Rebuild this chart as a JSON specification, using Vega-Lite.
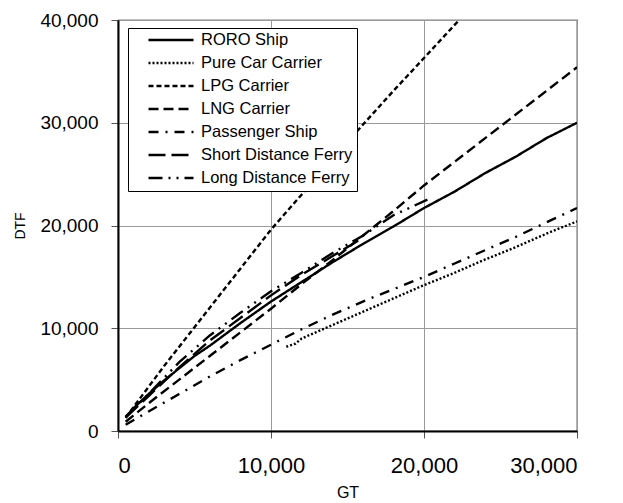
{
  "$schema": "https://vega.github.io/schema/vega-lite/v6.json",
  "autosize": "none",
  "width": 459,
  "height": 411,
  "padding": {"left": 118, "top": 20, "right": 46, "bottom": 72},
  "background": "white",
  "config": {
    "font": "Liberation Sans",
    "view": {"stroke": "black", "strokeWidth": 1.2},
    "axis": {
      "gridColor": "#9a9a9a",
      "gridWidth": 1,
      "domainColor": "black",
      "domainWidth": 2,
      "tickColor": "#555555",
      "tickSize": 7,
      "labelColor": "black",
      "titleColor": "black",
      "titleFontWeight": "normal"
    }
  },
  "data": {
    "values": [
      {"type": "RORO Ship", "gt": 500, "dt": 1300},
      {"type": "RORO Ship", "gt": 1000, "dt": 2200},
      {"type": "RORO Ship", "gt": 2000, "dt": 3600},
      {"type": "RORO Ship", "gt": 3000, "dt": 4900},
      {"type": "RORO Ship", "gt": 4000, "dt": 6100},
      {"type": "RORO Ship", "gt": 5000, "dt": 7300},
      {"type": "RORO Ship", "gt": 6000, "dt": 8300},
      {"type": "RORO Ship", "gt": 8000, "dt": 10500},
      {"type": "RORO Ship", "gt": 10000, "dt": 12600},
      {"type": "RORO Ship", "gt": 12000, "dt": 14500},
      {"type": "RORO Ship", "gt": 14000, "dt": 16400},
      {"type": "RORO Ship", "gt": 16000, "dt": 18200},
      {"type": "RORO Ship", "gt": 18000, "dt": 19900},
      {"type": "RORO Ship", "gt": 20000, "dt": 21700},
      {"type": "RORO Ship", "gt": 22000, "dt": 23300},
      {"type": "RORO Ship", "gt": 24000, "dt": 25100},
      {"type": "RORO Ship", "gt": 26000, "dt": 26700},
      {"type": "RORO Ship", "gt": 28000, "dt": 28500},
      {"type": "RORO Ship", "gt": 30000, "dt": 30000},

      {"type": "Pure Car Carrier", "gt": 11000, "dt": 8200},
      {"type": "Pure Car Carrier", "gt": 11600, "dt": 8500},
      {"type": "Pure Car Carrier", "gt": 12000, "dt": 9000},
      {"type": "Pure Car Carrier", "gt": 14000, "dt": 10300},
      {"type": "Pure Car Carrier", "gt": 16000, "dt": 11600},
      {"type": "Pure Car Carrier", "gt": 18000, "dt": 12900},
      {"type": "Pure Car Carrier", "gt": 20000, "dt": 14200},
      {"type": "Pure Car Carrier", "gt": 22000, "dt": 15400},
      {"type": "Pure Car Carrier", "gt": 24000, "dt": 16700},
      {"type": "Pure Car Carrier", "gt": 26000, "dt": 17900},
      {"type": "Pure Car Carrier", "gt": 28000, "dt": 19200},
      {"type": "Pure Car Carrier", "gt": 30000, "dt": 20400},

      {"type": "LPG Carrier", "gt": 500, "dt": 1300},
      {"type": "LPG Carrier", "gt": 1000, "dt": 2300},
      {"type": "LPG Carrier", "gt": 2000, "dt": 4300},
      {"type": "LPG Carrier", "gt": 3000, "dt": 6300},
      {"type": "LPG Carrier", "gt": 4000, "dt": 8200},
      {"type": "LPG Carrier", "gt": 5000, "dt": 10100},
      {"type": "LPG Carrier", "gt": 6000, "dt": 12000},
      {"type": "LPG Carrier", "gt": 8000, "dt": 15800},
      {"type": "LPG Carrier", "gt": 10000, "dt": 19600},
      {"type": "LPG Carrier", "gt": 12000, "dt": 23000},
      {"type": "LPG Carrier", "gt": 14000, "dt": 26400},
      {"type": "LPG Carrier", "gt": 16000, "dt": 29800},
      {"type": "LPG Carrier", "gt": 18000, "dt": 33100},
      {"type": "LPG Carrier", "gt": 20000, "dt": 36300},
      {"type": "LPG Carrier", "gt": 22300, "dt": 40000},

      {"type": "LNG Carrier", "gt": 500, "dt": 900},
      {"type": "LNG Carrier", "gt": 1000, "dt": 1500},
      {"type": "LNG Carrier", "gt": 2000, "dt": 2700},
      {"type": "LNG Carrier", "gt": 4000, "dt": 5000},
      {"type": "LNG Carrier", "gt": 6000, "dt": 7300},
      {"type": "LNG Carrier", "gt": 8000, "dt": 9600},
      {"type": "LNG Carrier", "gt": 10000, "dt": 11900},
      {"type": "LNG Carrier", "gt": 12000, "dt": 14300},
      {"type": "LNG Carrier", "gt": 14000, "dt": 16600},
      {"type": "LNG Carrier", "gt": 16000, "dt": 19000},
      {"type": "LNG Carrier", "gt": 18000, "dt": 21400},
      {"type": "LNG Carrier", "gt": 20000, "dt": 23900},
      {"type": "LNG Carrier", "gt": 22000, "dt": 26200},
      {"type": "LNG Carrier", "gt": 24000, "dt": 28500},
      {"type": "LNG Carrier", "gt": 26000, "dt": 30800},
      {"type": "LNG Carrier", "gt": 28000, "dt": 33100},
      {"type": "LNG Carrier", "gt": 30000, "dt": 35400},

      {"type": "Passenger Ship", "gt": 500, "dt": 600},
      {"type": "Passenger Ship", "gt": 2000, "dt": 1900},
      {"type": "Passenger Ship", "gt": 4000, "dt": 3600},
      {"type": "Passenger Ship", "gt": 6000, "dt": 5300},
      {"type": "Passenger Ship", "gt": 8000, "dt": 6900},
      {"type": "Passenger Ship", "gt": 10000, "dt": 8400},
      {"type": "Passenger Ship", "gt": 12000, "dt": 9900},
      {"type": "Passenger Ship", "gt": 14000, "dt": 11300},
      {"type": "Passenger Ship", "gt": 16000, "dt": 12600},
      {"type": "Passenger Ship", "gt": 18000, "dt": 13800},
      {"type": "Passenger Ship", "gt": 20000, "dt": 15000},
      {"type": "Passenger Ship", "gt": 22000, "dt": 16300},
      {"type": "Passenger Ship", "gt": 24000, "dt": 17600},
      {"type": "Passenger Ship", "gt": 26000, "dt": 18900},
      {"type": "Passenger Ship", "gt": 28000, "dt": 20300},
      {"type": "Passenger Ship", "gt": 30000, "dt": 21700},

      {"type": "Short Distance Ferry", "gt": 500, "dt": 1300},
      {"type": "Short Distance Ferry", "gt": 2000, "dt": 3400},
      {"type": "Short Distance Ferry", "gt": 4000, "dt": 6200},
      {"type": "Short Distance Ferry", "gt": 6000, "dt": 8800},
      {"type": "Short Distance Ferry", "gt": 8000, "dt": 11000},
      {"type": "Short Distance Ferry", "gt": 10000, "dt": 13200},
      {"type": "Short Distance Ferry", "gt": 12000, "dt": 15200},
      {"type": "Short Distance Ferry", "gt": 14000, "dt": 17000},
      {"type": "Short Distance Ferry", "gt": 16000, "dt": 18800},

      {"type": "Long Distance Ferry", "gt": 500, "dt": 1400},
      {"type": "Long Distance Ferry", "gt": 2000, "dt": 3600},
      {"type": "Long Distance Ferry", "gt": 4000, "dt": 6700},
      {"type": "Long Distance Ferry", "gt": 6000, "dt": 9300},
      {"type": "Long Distance Ferry", "gt": 8000, "dt": 11500},
      {"type": "Long Distance Ferry", "gt": 10000, "dt": 13600},
      {"type": "Long Distance Ferry", "gt": 12000, "dt": 15400},
      {"type": "Long Distance Ferry", "gt": 14000, "dt": 17300},
      {"type": "Long Distance Ferry", "gt": 16000, "dt": 19000},
      {"type": "Long Distance Ferry", "gt": 18000, "dt": 21000},
      {"type": "Long Distance Ferry", "gt": 20500, "dt": 22700}
    ]
  },
  "mark": {"type": "line", "color": "black", "strokeWidth": 2.4, "clip": true},
  "encoding": {
    "x": {
      "field": "gt",
      "type": "quantitative",
      "scale": {"domain": [0, 30000], "nice": false},
      "axis": {
        "title": "GT",
        "values": [0, 10000, 20000, 30000],
        "format": ",.0f",
        "labelFontSize": 22,
        "labelPadding": 17,
        "titleFontSize": 16,
        "titlePadding": 8
      }
    },
    "y": {
      "field": "dt",
      "type": "quantitative",
      "scale": {"domain": [0, 40000], "nice": false},
      "axis": {
        "title": "DTF",
        "values": [0, 10000, 20000, 30000, 40000],
        "format": ",.0f",
        "labelFontSize": 19,
        "labelPadding": 13,
        "titleFontSize": 14,
        "titlePadding": 12
      }
    },
    "strokeDash": {
      "field": "type",
      "type": "nominal",
      "scale": {
        "domain": ["RORO Ship", "Pure Car Carrier", "LPG Carrier", "LNG Carrier", "Passenger Ship", "Short Distance Ferry", "Long Distance Ferry"],
        "range": [[1, 0], [2, 2], [5, 3], [10, 5], [10, 7, 2, 7], [17, 6], [14, 6, 2, 6, 2, 6]]
      },
      "legend": {
        "title": null,
        "orient": "none",
        "legendX": 10,
        "legendY": 8,
        "fillColor": "white",
        "strokeColor": "black",
        "padding": 4,
        "symbolType": "stroke",
        "symbolSize": 2025,
        "symbolStrokeWidth": 2.4,
        "symbolStrokeColor": "black",
        "symbolOffset": 15,
        "clipHeight": 16,
        "rowPadding": 6,
        "labelFontSize": 16.5,
        "labelColor": "black",
        "labelOffset": 6,
        "labelLimit": 300
      }
    }
  }
}
